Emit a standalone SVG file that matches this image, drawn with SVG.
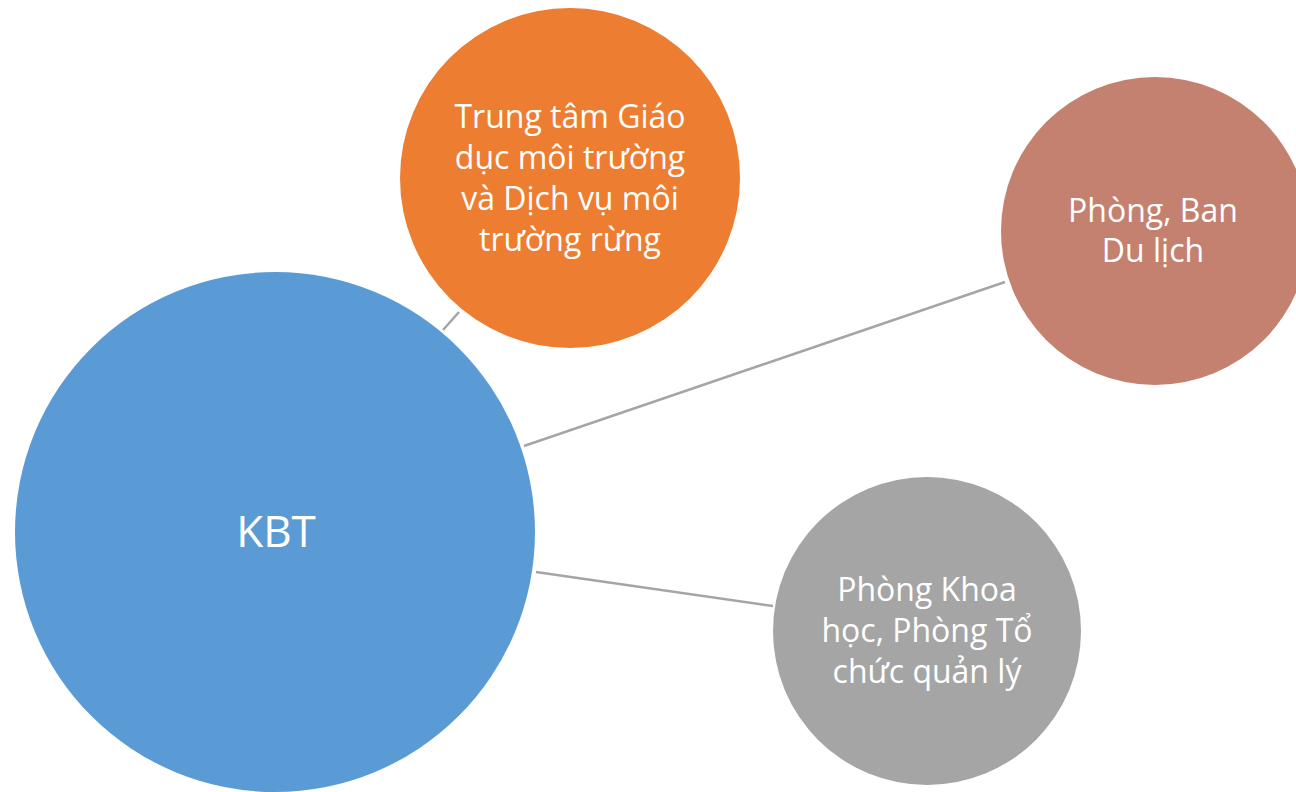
<svg xmlns="http://www.w3.org/2000/svg" width="1296" height="792" viewBox="0 0 1296 792">
<style>
.lbl{font-family:"Open Sans","Liberation Sans",sans-serif;fill:#fff;text-anchor:middle}
.t{font-size:32px}
.conn line{stroke:#A5A5A5;stroke-width:2.5}
</style>
<rect width="1296" height="792" fill="#fff"/>
<g id="connectors" class="conn">
<line x1="443" y1="330" x2="459" y2="312"/>
<line x1="524" y1="446" x2="1005" y2="282"/>
<line x1="536" y1="572" x2="773" y2="606"/>
</g>
<g id="kbt">
<circle cx="275" cy="532" r="260" fill="#5B9BD5"/>
<text class="lbl" x="276" y="547" font-size="44">KBT</text>
</g>
<g id="trung-tam">
<circle cx="570" cy="178" r="170" fill="#ED7D31"/>
<text class="lbl t" x="570" y="128">Trung tâm Giáo</text>
<text class="lbl t" x="570" y="169">dục môi trường</text>
<text class="lbl t" x="570" y="210">và Dịch vụ môi</text>
<text class="lbl t" x="570" y="251">trường rừng</text>
</g>
<g id="du-lich">
<circle cx="1155" cy="231" r="154" fill="#C48170"/>
<text class="lbl t" x="1153" y="222">Phòng, Ban</text>
<text class="lbl t" x="1153" y="262">Du lịch</text>
</g>
<g id="khoa-hoc">
<circle cx="927" cy="631" r="154" fill="#A5A5A5"/>
<text class="lbl t" x="927" y="601">Phòng Khoa</text>
<text class="lbl t" x="927" y="642">học, Phòng Tổ</text>
<text class="lbl t" x="927" y="683">chức quản lý</text>
</g>
</svg>
